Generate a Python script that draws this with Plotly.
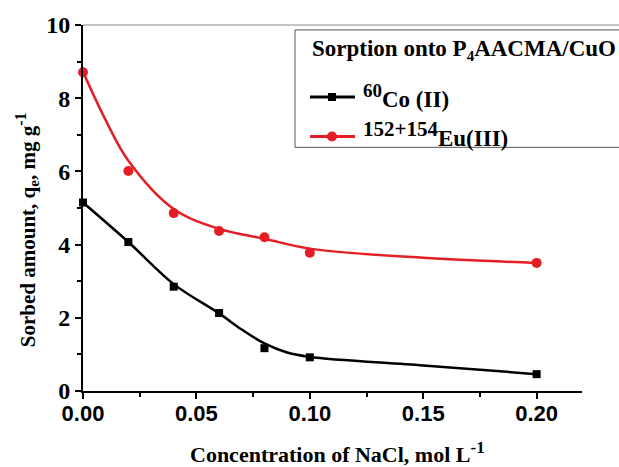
import plotly.graph_objects as go

# Measured data
nacl = [0.0, 0.02, 0.04, 0.06, 0.08, 0.10, 0.20]
co_q = [5.15, 4.07, 2.85, 2.13, 1.17, 0.92, 0.46]
eu_q = [8.71, 6.01, 4.86, 4.37, 4.20, 3.78, 3.50]

# Smooth fitted curves
co_fit_x = [0.0, 0.02, 0.04, 0.06, 0.07, 0.08, 0.09, 0.10, 0.15, 0.20]
co_fit_y = [5.15, 4.07, 2.92, 2.12, 1.68, 1.30, 1.05, 0.93, 0.70, 0.46]
eu_fit_x = [0.0, 0.01, 0.02, 0.04, 0.06, 0.08, 0.10, 0.15, 0.20]
eu_fit_y = [8.72, 7.40, 6.29, 4.97, 4.43, 4.16, 3.89, 3.64, 3.50]

x_ticks = [0, 0.05, 0.10, 0.15, 0.20]
x_ticktext = ["0.00", "0.05", "0.10", "0.15", "0.20"]

co_name = "<sup><span style='font-size:19px'>60</span></sup>Co (II)"
eu_name = "<sup><span style='font-size:21px'>152+154</span></sup>Eu(III)"
legend_title = "Sorption onto P<sub><span style='font-size:15px'>4</span></sub>AACMA/CuO"
x_title = "Concentration of NaCl, mol L<sup><span style='font-size:17px'>-1</span></sup>"
y_title = "Sorbed amount, q<sub><span style='font-size:15px'>e</span></sub>, mg g<sup><span style='font-size:16px'>-1</span></sup>"

BLACK = "#000000"
RED = "#e31e24"

# plot area in pixels (for placing the hand-made legend)
L, R, T, B = 83, 582, 20, 391
def px(x): return (x - L) / (R - L)
def py(y): return (B - y) / (B - T)

fig = go.Figure()
fig.add_trace(go.Scatter(x=co_fit_x, y=co_fit_y, mode="lines", line=dict(color=BLACK, width=2.5, shape="spline", smoothing=1.0), showlegend=False, hoverinfo="skip"))
fig.add_trace(go.Scatter(x=eu_fit_x, y=eu_fit_y, mode="lines", line=dict(color=RED, width=2.5, shape="spline", smoothing=1.0), showlegend=False, hoverinfo="skip"))
fig.add_trace(go.Scatter(x=nacl, y=co_q, mode="markers", marker=dict(symbol="square", size=8, color=BLACK), showlegend=False, cliponaxis=False))
fig.add_trace(go.Scatter(x=nacl, y=eu_q, mode="markers", marker=dict(symbol="circle", size=10, color=RED), showlegend=False, cliponaxis=False))

serif_bold = dict(family="Liberation Serif", size=24, color="black", weight="bold")
title_font = dict(family="Liberation Serif", size=22, color="black", weight="bold")
ytitle_font = dict(family="Liberation Serif", size=21, color="black", weight="bold")
sans_bold = dict(family="Liberation Sans", size=22, color="black", weight="bold")
legend_font = dict(family="Liberation Serif", size=23, color="black", weight="bold")

shapes = [
    # top frame line
    dict(type="line", xref="paper", yref="paper", x0=0, x1=1.2, y0=1, y1=1, line=dict(color="#888888", width=1)),
    # legend box
    dict(type="rect", xref="paper", yref="paper", x0=px(295), x1=px(640), y0=py(25), y1=py(144),
         line=dict(color="#555555", width=1), fillcolor="white", layer="above"),
    # legend samples
    dict(type="line", xref="paper", yref="paper", x0=px(310), x1=px(355), y0=py(93), y1=py(93), line=dict(color=BLACK, width=3), layer="above"),
    dict(type="rect", xref="paper", yref="paper", xsizemode="pixel", ysizemode="pixel", xanchor=px(332), yanchor=py(93),
         x0=-4, x1=4, y0=-4, y1=4, fillcolor=BLACK, line=dict(width=0), layer="above"),
    dict(type="line", xref="paper", yref="paper", x0=px(310), x1=px(355), y0=py(133), y1=py(133), line=dict(color=RED, width=3), layer="above"),
    dict(type="circle", xref="paper", yref="paper", xsizemode="pixel", ysizemode="pixel", xanchor=px(332), yanchor=py(133),
         x0=-5, x1=5, y0=-5, y1=5, fillcolor=RED, line=dict(width=0), layer="above"),
]

annotations = [
    dict(text=legend_title, xref="paper", yref="paper", x=px(310), y=py(45), xanchor="left", yanchor="middle",
         showarrow=False, font=legend_font),
    dict(text=co_name, xref="paper", yref="paper", x=px(361), y=py(92), xanchor="left", yanchor="middle",
         showarrow=False, font=legend_font),
    dict(text=eu_name, xref="paper", yref="paper", x=px(361), y=py(130), xanchor="left", yanchor="middle",
         showarrow=False, font=legend_font),
    dict(text=y_title, xref="paper", yref="paper", x=px(27), y=py(228), xanchor="center", yanchor="middle",
         textangle=-90, showarrow=False, font=ytitle_font),
    dict(text=x_title, xref="paper", yref="paper", x=px(337), y=py(453), xanchor="center", yanchor="middle",
         showarrow=False, font=title_font),
]

fig.update_layout(
    width=619, height=467,
    margin=dict(l=L, r=619 - R, t=T, b=467 - B),
    plot_bgcolor="white", paper_bgcolor="white",
    showlegend=False,
    xaxis=dict(
        range=[0, 0.22], tickvals=x_ticks, ticktext=x_ticktext,
        ticks="outside", ticklen=6, tickwidth=1.5, tickcolor="black",
        minor=dict(dtick=0.025, tick0=0, ticks="outside", ticklen=4, tickwidth=1.5, tickcolor="black"),
        showline=True, linecolor="black", linewidth=2, showgrid=False, zeroline=False,
        tickfont=sans_bold, ticklabelstandoff=-4,
    ),
    yaxis=dict(
        range=[0, 10], dtick=2, ticks="outside", ticklen=6, tickwidth=1.5, tickcolor="black",
        minor=dict(dtick=1, ticks="outside", ticklen=4, tickwidth=1.5, tickcolor="black"),
        showline=True, linecolor="black", linewidth=2, showgrid=False, zeroline=False,
        tickfont=serif_bold,
    ),
    shapes=shapes,
    annotations=annotations,
)

fig.write_html("out.html")
